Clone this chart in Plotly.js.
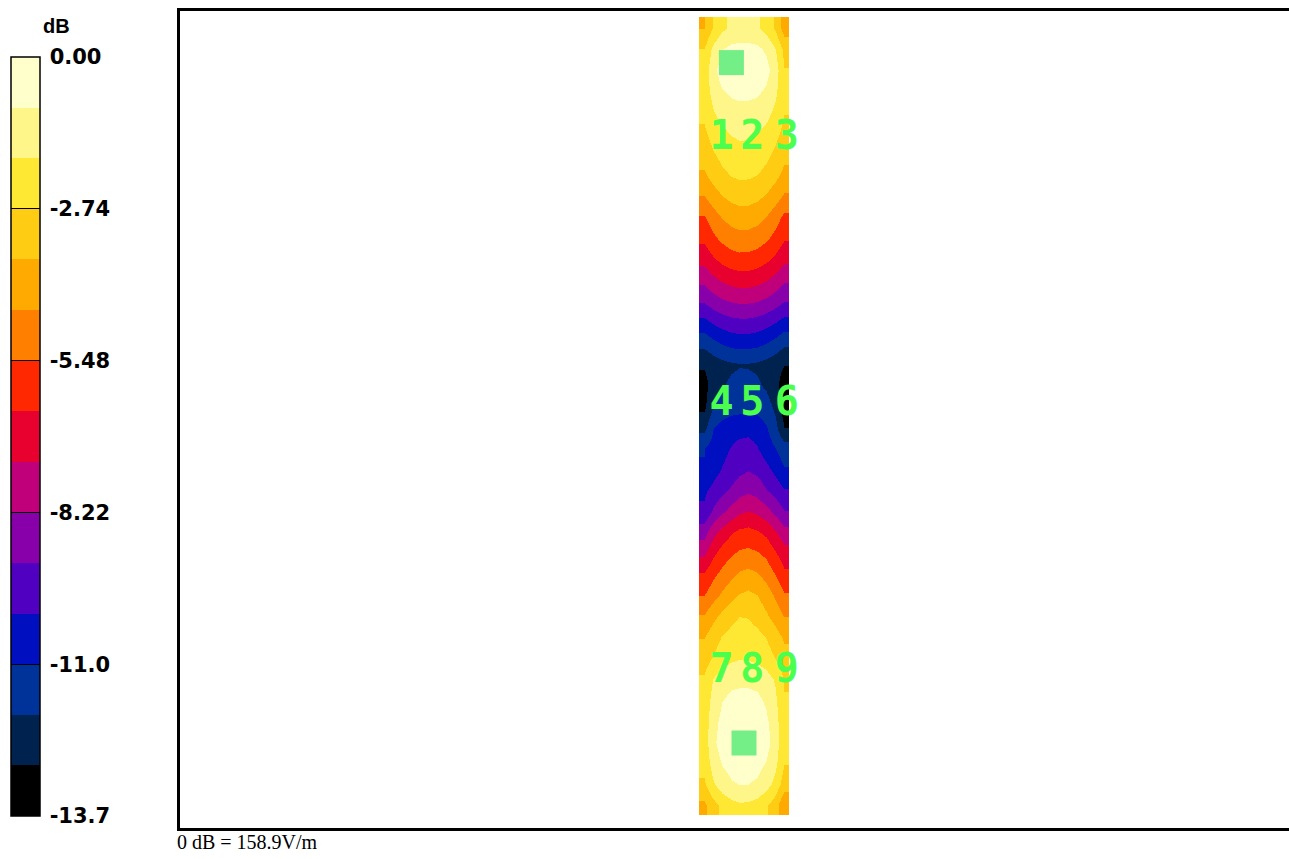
<!DOCTYPE html>
<html><head><meta charset="utf-8">
<script src="https://cdn.plot.ly/plotly-3.0.1.min.js"></script>
<style>html,body{margin:0;padding:0;background:#fff;overflow:hidden;} #chart{width:1289px;height:859px;}</style>
</head><body><div id="chart"></div>
<script>
// scan grid (mm)
const xMm = [1.5, 4.5, 7.5, 10.5, 13.5, 16.5, 19.5, 22.5, 25.5, 28.5];
const yMm = [3.5, 10.5, 17.5, 24.5, 31.5, 38.5, 45.5, 52.5, 59.5, 66.5, 73.5, 80.5, 87.5, 94.5,
  101.5, 108.5, 115.5, 122.5, 129.5, 136.5, 143.5, 150.5, 157.5, 164.5, 171.5, 178.5, 185.5,
  192.5, 199.5, 206.5, 213.5, 220.5, 227.5, 234.5, 241.5, 248.5, 255.5, 262.5];
// field level in dB (rows bottom -> top)
const fieldDb = [
  [-3.84, -3.08, -2.50, -2.13, -1.97, -1.99, -2.20, -2.61, -3.22, -4.50],
  [-2.88, -1.93, -1.31, -1.00, -0.89, -0.91, -1.04, -1.44, -2.11, -3.20],
  [-2.44, -1.43, -0.85, -0.61, -0.55, -0.55, -0.64, -0.96, -1.60, -2.70],
  [-2.30, -1.13, -0.45, -0.18, -0.10, -0.10, -0.20, -0.58, -1.33, -2.60],
  [-2.33, -1.26, -0.65, -0.40, -0.33, -0.33, -0.42, -0.76, -1.44, -2.60],
  [-2.45, -1.49, -0.94, -0.71, -0.65, -0.65, -0.73, -1.04, -1.65, -2.70],
  [-2.60, -1.80, -1.34, -1.15, -1.10, -1.10, -1.17, -1.42, -1.93, -2.80],
  [-3.19, -2.66, -2.26, -2.00, -1.88, -1.90, -2.04, -2.33, -2.76, -3.30],
  [-3.68, -3.12, -2.69, -2.42, -2.30, -2.31, -2.46, -2.77, -3.22, -3.80],
  [-4.49, -3.91, -3.40, -3.00, -2.75, -2.79, -3.09, -3.51, -4.03, -4.60],
  [-5.50, -4.90, -4.40, -3.95, -3.60, -3.45, -3.65, -4.10, -4.70, -5.40],
  [-6.30, -5.70, -5.20, -4.80, -4.45, -4.30, -4.50, -4.90, -5.50, -6.20],
  [-7.50, -6.60, -6.00, -5.60, -5.35, -5.25, -5.40, -5.70, -6.30, -6.90],
  [-8.60, -7.60, -7.00, -6.50, -6.20, -6.10, -6.30, -6.60, -7.20, -7.90],
  [-9.90, -9.00, -8.40, -7.90, -7.50, -7.30, -7.50, -7.90, -8.50, -9.10],
  [-10.20, -9.80, -9.40, -9.00, -8.60, -8.40, -8.60, -9.10, -9.50, -10.00],
  [-10.90, -10.40, -10.00, -9.70, -9.40, -9.20, -9.40, -9.80, -10.30, -10.90],
  [-11.00, -10.60, -10.30, -10.00, -9.75, -9.70, -10.00, -10.50, -10.95, -11.50],
  [-12.20, -11.00, -10.70, -10.50, -10.40, -10.35, -10.45, -10.90, -11.60, -12.80],
  [-13.00, -11.90, -11.44, -11.32, -11.30, -11.30, -11.34, -11.52, -12.08, -13.30],
  [-13.11, -12.36, -11.92, -11.75, -11.70, -11.70, -11.76, -12.00, -12.48, -13.30],
  [-12.68, -12.37, -12.13, -11.98, -11.91, -11.92, -12.00, -12.17, -12.43, -12.75],
  [-11.61, -11.20, -10.88, -10.68, -10.59, -10.60, -10.71, -10.94, -11.27, -11.70],
  [-10.32, -9.93, -9.64, -9.45, -9.37, -9.38, -9.48, -9.69, -10.00, -10.40],
  [-9.02, -8.64, -8.35, -8.16, -8.08, -8.09, -8.19, -8.40, -8.71, -9.10],
  [-8.00, -7.55, -7.20, -6.98, -6.88, -6.89, -7.02, -7.26, -7.63, -8.10],
  [-6.99, -6.50, -6.13, -5.89, -5.78, -5.80, -5.93, -6.20, -6.59, -7.10],
  [-6.19, -5.66, -5.26, -5.00, -4.88, -4.90, -5.04, -5.33, -5.76, -6.30],
  [-5.57, -4.97, -4.51, -4.22, -4.09, -4.10, -4.27, -4.59, -5.08, -5.70],
  [-4.59, -4.06, -3.66, -3.41, -3.29, -3.31, -3.45, -3.73, -4.16, -4.70],
  [-3.79, -3.31, -2.94, -2.70, -2.59, -2.61, -2.74, -3.00, -3.40, -3.90],
  [-3.30, -2.82, -2.47, -2.24, -2.13, -2.15, -2.27, -2.53, -2.91, -3.40],
  [-2.89, -2.39, -2.01, -1.77, -1.66, -1.68, -1.81, -2.08, -2.49, -3.00],
  [-2.55, -1.89, -1.46, -1.25, -1.17, -1.19, -1.28, -1.55, -2.01, -2.70],
  [-2.37, -1.47, -0.96, -0.75, -0.69, -0.69, -0.77, -1.05, -1.63, -2.60],
  [-2.39, -1.18, -0.48, -0.20, -0.12, -0.12, -0.22, -0.61, -1.38, -2.70],
  [-2.71, -1.58, -0.94, -0.67, -0.60, -0.60, -0.70, -1.06, -1.78, -3.00],
  [-3.67, -2.66, -2.00, -1.68, -1.56, -1.58, -1.72, -2.15, -2.85, -4.10]
];
const levelTicks = [0, -2.74, -5.48, -8.22, -10.96, -13.7];
const levelLabels = ['0.00', '-2.74', '-5.48', '-8.22', '-11.0', '-13.7'];
const zMin = -13.7, zMax = 0;
// 15 bands, lowest level first
const bandColors = ['#000000', '#00224F', '#003399', '#0010C0', '#5000C0', '#8800AA', '#C0007A',
  '#E8002E', '#FF2800', '#FF8000', '#FFAA00', '#FFCC14', '#FFE833', '#FFF68A', '#FFFFCC'];
const probeText = ['1', '2', '3', '4', '5', '6', '7', '8', '9'];
const probeX = [7.5, 17.8, 29.3, 7.5, 17.8, 29.3, 7.5, 17.8, 29.3];
const probeY = [225.3, 225.3, 225.3, 136.7, 136.7, 136.7, 47.7, 47.7, 47.7];
const peakX = [10.8, 15.0];
const peakY = [250.8, 24.0];
const refText = '0 dB = 158.9V/m';

const colorscale = [];
bandColors.forEach((c, i) => {
  colorscale.push([i / bandColors.length, c]);
  colorscale.push([(i + 1) / bandColors.length, c]);
});

const W = 1289, H = 859, ml = 180, mt = 11, mb = 31;
const pw = W - ml, ph = H - mt - mb;
const px = v => (v - ml) / pw;
const py = v => (H - mb - v) / ph;

const traces = [
  {
    type: 'heatmap', x: xMm, y: yMm, z: fieldDb, zmin: zMin, zmax: zMax,
    colorscale: colorscale, zsmooth: 'best', hoverinfo: 'skip',
    colorbar: {
      thickness: 29, thicknessmode: 'pixels', len: 759, lenmode: 'pixels',
      x: px(11), xanchor: 'left', xpad: 0, y: py(57), yanchor: 'top', ypad: 0,
      outlinecolor: '#000', outlinewidth: 1.5,
      tickmode: 'array', tickvals: levelTicks, ticktext: levelLabels.map(s => '\u2009' + s),
      ticks: 'inside', ticklen: 29, tickwidth: 1.2, tickcolor: '#000',
      tickfont: {family: 'DejaVu Sans, sans-serif', size: 21, color: '#000', weight: 'bold'}
    }
  },
  {
    type: 'scatter', mode: 'markers', x: peakX, y: peakY, hoverinfo: 'skip',
    marker: {symbol: 'square', size: 25, color: '#74EE86', line: {width: 0}},
    showlegend: false, cliponaxis: false
  },
  {
    type: 'scatter', mode: 'text', x: probeX, y: probeY, text: probeText,
    textposition: 'middle center', hoverinfo: 'skip', cliponaxis: false, showlegend: false,
    textfont: {family: 'DejaVu Sans Mono, monospace', size: 40, color: '#4DFF4D', weight: 'bold'}
  }
];

const layout = {
  width: W, height: H,
  margin: {l: ml, r: 0, t: mt, b: mb, pad: 0},
  paper_bgcolor: '#fff', plot_bgcolor: '#fff',
  showlegend: false, hovermode: false,
  xaxis: {range: [-173, 196.67], showgrid: false, zeroline: false, showticklabels: false, ticks: '',
    showline: true, mirror: true, linecolor: '#000', linewidth: 3, fixedrange: true},
  yaxis: {range: [-4.33, 268], showgrid: false, zeroline: false, showticklabels: false, ticks: '',
    showline: true, mirror: false, linecolor: '#000', linewidth: 3, fixedrange: true},
  annotations: [
    {xref: 'paper', yref: 'paper', x: px(56), y: py(26), xanchor: 'center', yanchor: 'middle',
      text: 'dB', showarrow: false,
      font: {family: 'Liberation Sans, Arial, sans-serif', size: 20, color: '#000', weight: 'bold'}},
    {xref: 'paper', yref: 'paper', x: px(175), y: py(842), xanchor: 'left', yanchor: 'middle',
      text: refText, showarrow: false,
      font: {family: 'Liberation Serif, Times New Roman, serif', size: 20, color: '#000'}}
  ]
};

Plotly.newPlot('chart', traces, layout, {displayModeBar: false, staticPlot: true});
</script>
</body></html>
